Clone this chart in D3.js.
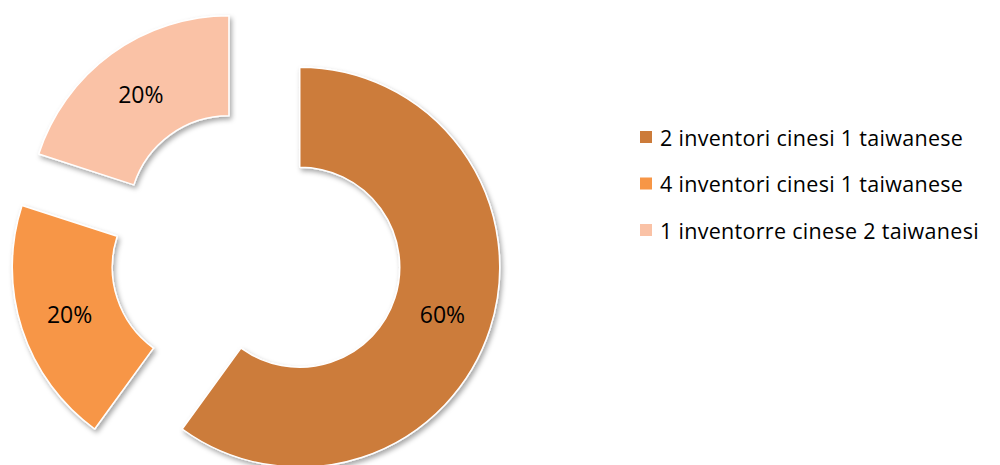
<!DOCTYPE html>
<html>
<head>
<meta charset="utf-8">
<script src="https://cdn.jsdelivr.net/npm/d3@7"></script>
<style>
  html, body { margin: 0; padding: 0; background: #fff; }
  svg { display: block; font-family: "Open Sans", Lato, sans-serif; }
</style>
</head>
<body>
<svg id="chart" width="1000" height="465"></svg>
<script>
// Inventor team composition
const categories = [
  "2 inventori cinesi 1 taiwanese",
  "4 inventori cinesi 1 taiwanese",
  "1 inventorre cinese 2 taiwanesi"
];
const shares = [60, 20, 20];
const colors = ["#CC7B3A", "#F79646", "#FAC2A6"];

const svg = d3.select("#chart");

const cx = 256, cy = 253;
const outerR = 200, innerR = 100;
const explode = 46;

const defs = svg.append("defs");
const f = defs.append("filter").attr("id", "shadow")
  .attr("x", "-20%").attr("y", "-20%").attr("width", "140%").attr("height", "140%");
f.append("feDropShadow").attr("dx", 2).attr("dy", 3).attr("stdDeviation", 2.5)
  .attr("flood-color", "#000").attr("flood-opacity", 0.35);

const pie = d3.pie().sort(null).value(d => d.value);
const arc = d3.arc().innerRadius(innerR).outerRadius(outerR);
const labelArc = d3.arc().innerRadius(150).outerRadius(150);

const data = categories.map((c, i) => ({ name: c, value: shares[i], color: colors[i] }));
const arcs = pie(data);

const g = svg.append("g").attr("transform", `translate(${cx},${cy})`);

// each ring segment is pushed outward along its mid-angle
const slice = g.selectAll("g.slice").data(arcs).join("g")
  .attr("class", "slice")
  .attr("transform", d => {
    const a = (d.startAngle + d.endAngle) / 2;
    return `translate(${explode * Math.sin(a)},${-explode * Math.cos(a)})`;
  });

slice.append("path")
  .attr("d", arc)
  .attr("fill", d => d.data.color)
  .attr("stroke", "#fff")
  .attr("stroke-width", 1.5)
  .attr("stroke-linejoin", "round")
  .attr("filter", "url(#shadow)");

const total = d3.sum(shares);
slice.append("text")
  .attr("transform", d => `translate(${labelArc.centroid(d)})`)
  .attr("text-anchor", "middle")
  .attr("dominant-baseline", "central")
  .attr("font-size", 23)
  .attr("fill", "#000")
  .text(d => Math.round(d.data.value / total * 100) + "%");

// Legend
const legend = svg.append("g").attr("transform", "translate(640,137)");
const y = d3.scalePoint().domain(categories).range([0, 93]);
const item = legend.selectAll("g").data(data).join("g")
  .attr("transform", d => `translate(0,${y(d.name)})`);
item.append("rect")
  .attr("x", 0).attr("y", -6).attr("width", 12).attr("height", 12)
  .attr("fill", d => d.color);
item.append("text")
  .attr("x", 20).attr("y", 0)
  .attr("dominant-baseline", "central")
  .attr("font-size", 21.5)
  .attr("letter-spacing", 0.3)
  .attr("fill", "#000")
  .text(d => d.name);
</script>
</body>
</html>
